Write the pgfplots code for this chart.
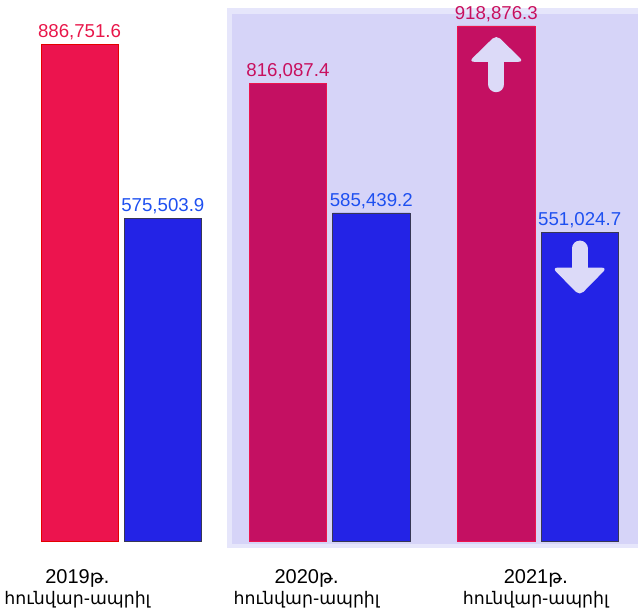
\documentclass[border=0pt]{standalone}
\usepackage{pgfplots}
\pgfplotsset{compat=1.18}
\usepackage{fontspec}
\setmainfont{Liberation Sans}
\newfontfamily\armfont{DejaVu Sans}
\definecolor{redA}{RGB}{236,20,78}
\definecolor{redB}{RGB}{196,16,98}
\definecolor{blueBar}{RGB}{35,35,230}
\definecolor{blueEdge}{RGB}{55,55,85}
\definecolor{blueLbl}{RGB}{30,80,240}
\definecolor{redLblA}{RGB}{232,23,74}
\definecolor{redLblB}{RGB}{200,16,94}
\definecolor{lavOut}{RGB}{230,230,251}
\definecolor{lavIn}{RGB}{214,212,248}
\definecolor{arrowc}{RGB}{220,218,248}
\begin{document}
\begin{tikzpicture}
\begin{axis}[
  scale only axis, width=478.5pt, height=402pt,
  xmin=-0.58, xmax=2.48, ymin=0, ymax=955000,
  ybar, bar width=0.37,
  axis line style={draw=none}, tick style={draw=none},
  ytick=\empty,
  xtick={-0.21,0.89,1.99},
  xticklabels={{2019{\armfont\fontsize{14}{16}\selectfont թ.}\\{\armfont\fontsize{13}{16}\selectfont հունվար-ապրիլ}},{2020{\armfont\fontsize{14}{16}\selectfont թ.}\\{\armfont\fontsize{13}{16}\selectfont հունվար-ապրիլ}},{2021{\armfont\fontsize{14}{16}\selectfont թ.}\\{\armfont\fontsize{13}{16}\selectfont հունվար-ապրիլ}}},
  xticklabel style={align=center, font=\fontsize{15}{16}\selectfont, yshift=-13pt},
  clip=false,
  nodes near coords, point meta=explicit symbolic,
  every node near coord/.append style={font=\fontsize{14}{16}\selectfont, inner sep=3pt},
]
\fill[lavOut] (axis cs:0.508,-12600) rectangle (axis cs:2.48,950000);
\fill[lavIn] (axis cs:0.532,-5400) rectangle (axis cs:2.48,941000);

\addplot[fill=redA, draw=red!90!black, bar shift=-0.2,
  every node near coord/.append style={text=redLblA}]
  table[x=x, y=y, meta=lbl] {
x y lbl
0 886751.6 886,751.6
};
\addplot[fill=redB, draw=redA, bar shift=-0.2,
  every node near coord/.append style={text=redLblB}]
  table[x=x, y=y, meta=lbl] {
x y lbl
1 816087.4 816,087.4
2 918876.3 918,876.3
};
\addplot[fill=blueBar, draw=blueEdge, bar shift=0.2,
  every node near coord/.append style={text=blueLbl}]
  table[x=x, y=y, meta=lbl] {
x y lbl
0 575503.9 575,503.9
1 585439.2 585,439.2
2 551024.7 551,024.7
};

% arrows
\draw[arrowc, line width=12pt, line cap=round] (axis cs:1.8,815000) -- (axis cs:1.8,855000);
\fill[arrowc, rounded corners=4pt] (axis cs:1.668,855000) -- (axis cs:1.8,903000) -- (axis cs:1.932,855000) -- cycle;
\draw[arrowc, line width=12pt, line cap=round] (axis cs:2.2,522000) -- (axis cs:2.2,488000);
\fill[arrowc, rounded corners=4pt] (axis cs:2.068,488000) -- (axis cs:2.2,438000) -- (axis cs:2.332,488000) -- cycle;
\end{axis}
\end{tikzpicture}
\end{document}
